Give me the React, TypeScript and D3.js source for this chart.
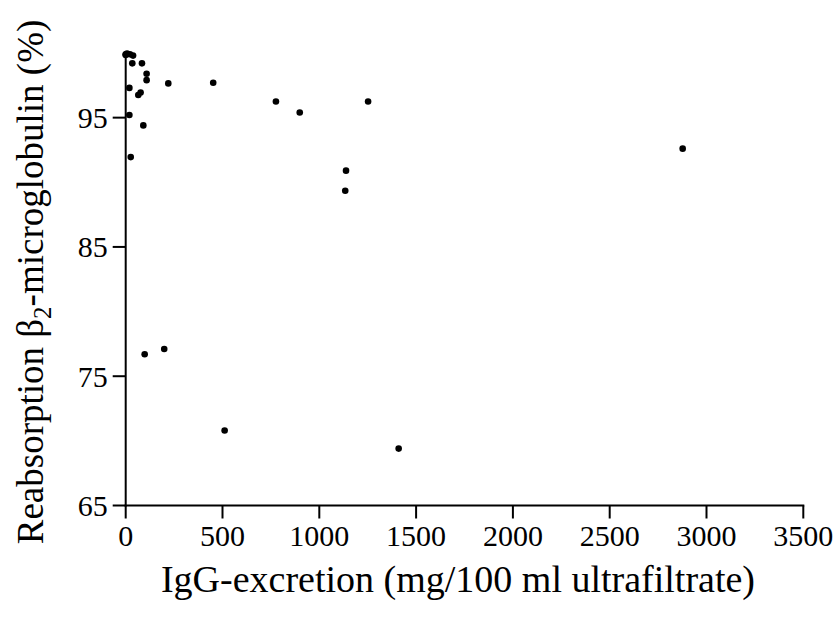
import React from "react";
import * as d3 from "d3";

const igg: number[] = [0, 7, 22, 38, 0, 34, 84, 108, 108, 220, 452, 19, 65, 77, 19, 91, 26, 776, 899, 1252, 1138, 1134, 2877, 98, 199, 511, 1410];
const reabs: number[] = [99.9, 99.95, 99.9, 99.8, 99.85, 99.2, 99.2, 98.4, 97.9, 97.65, 97.7, 97.3, 96.75, 96.95, 95.2, 94.4, 91.95, 96.25, 95.4, 96.25, 90.9, 89.35, 92.6, 76.7, 77.1, 70.8, 69.4];
const xTicks: number[] = [0, 500, 1000, 1500, 2000, 2500, 3000, 3500];
const yTicks: number[] = [65, 75, 85, 95];

const W = 836;
const H = 619;
const FONT = "'Liberation Serif', 'Times New Roman', serif";

export default function App() {
  const x = d3.scaleLinear().domain([0, 3500]).range([125.7, 803.3]);
  const y = d3.scaleLinear().domain([65, 100]).range([505.5, 53]);
  const pts = igg.map((v, i) => ({ x: v, y: reabs[i] }));
  const x0 = x(0);
  const y0 = y(65);
  return (
    <svg
      width={W}
      height={H}
      style={{ position: "absolute", left: 0, top: 0, background: "#fff" }}
      fontFamily={FONT}
    >
      <rect width={W} height={H} fill="#fff" />
      {/* y axis */}
      <line x1={x0} x2={x0} y1={y(100)} y2={y0 + 1} stroke="#000" strokeWidth={2} />
      {yTicks.map((t) => (
        <g key={"y" + t}>
          <line x1={x0 - 13} x2={x0} y1={y(t)} y2={y(t)} stroke="#000" strokeWidth={2} />
          <text x={x0 - 18} y={y(t)} dy="0.35em" textAnchor="end" fontSize={30}>
            {t}
          </text>
        </g>
      ))}
      {/* x axis */}
      <line x1={x0 - 1} x2={x(3500) + 1} y1={y0} y2={y0} stroke="#000" strokeWidth={2} />
      {xTicks.map((t) => (
        <g key={"x" + t}>
          <line x1={x(t)} x2={x(t)} y1={y0} y2={y0 + 13} stroke="#000" strokeWidth={2} />
          <text x={x(t)} y={y0 + 40} textAnchor="middle" fontSize={30}>
            {t}
          </text>
        </g>
      ))}
      {pts.map((p, i) => (
        <circle key={i} cx={x(p.x)} cy={y(p.y)} r={3.3} fill="#000" />
      ))}
      <text x={458} y={592} textAnchor="middle" fontSize={38}>
        IgG-excretion (mg/100 ml ultrafiltrate)
      </text>
      <text
        transform={`translate(43, 282) rotate(-90)`}
        textAnchor="middle"
        fontSize={37}
      >
        Reabsorption β<tspan fontSize={25} dy={8}>2</tspan>
        <tspan dy={-8}>-microglobulin (%)</tspan>
      </text>
    </svg>
  );
}
